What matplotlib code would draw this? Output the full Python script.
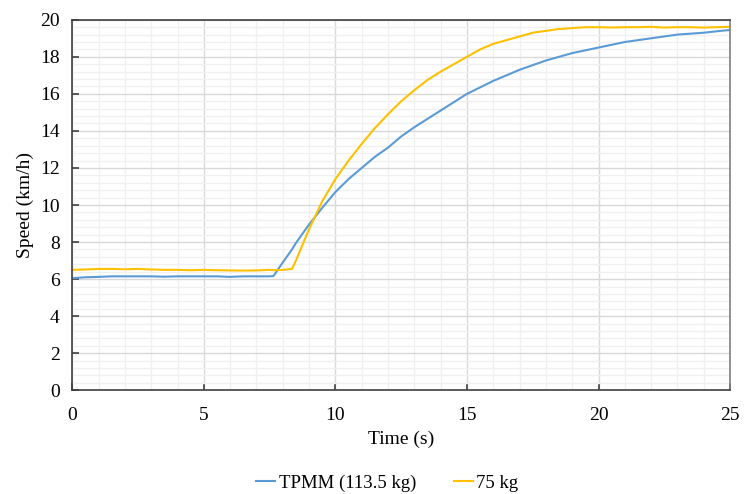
import matplotlib
matplotlib.use("Agg")
import matplotlib.pyplot as plt
import numpy as np

plt.rcParams['font.family'] = ['Liberation Serif', 'DejaVu Serif']

# time axis (s), 0.5 s steps
time_s = [0.0, 0.5, 1.0, 1.5, 2.0, 2.5, 3.0, 3.5, 4.0, 4.5,
          5.0, 5.5, 6.0, 6.5, 7.0, 7.5, 7.65, 8.0, 8.35, 8.5,
          9.0, 9.5, 10.0, 10.5, 11.0, 11.5, 12.0, 12.5, 13.0, 13.5,
          14.0, 14.5, 15.0, 15.5, 16.0, 16.5, 17.0, 17.5, 18.0, 18.5,
          19.0, 19.5, 20.0, 20.5, 21.0, 21.5, 22.0, 22.5, 23.0, 23.5,
          24.0, 24.5, 25.0]

# TPMM (113.5 kg)
speed_tpmm = [6.05, 6.1, 6.12, 6.15, 6.15, 6.15, 6.15, 6.13, 6.15, 6.15,
              6.15, 6.15, 6.12, 6.15, 6.15, 6.15, 6.17, 6.9, 7.6, 7.95,
              8.95, 9.85, 10.7, 11.4, 12.0, 12.6, 13.1, 13.7, 14.2, 14.65,
              15.1, 15.55, 16.0, 16.35, 16.7, 17.0, 17.3, 17.55, 17.8, 18.0,
              18.2, 18.35, 18.5, 18.65, 18.8, 18.9, 19.0, 19.1, 19.2, 19.25,
              19.3, 19.38, 19.45]

# 75 kg
speed_75 = [6.5, 6.52, 6.55, 6.55, 6.53, 6.55, 6.52, 6.5, 6.5, 6.48,
            6.5, 6.48, 6.47, 6.46, 6.47, 6.5, 6.48, 6.5, 6.55, 7.0,
            8.7, 10.2, 11.4, 12.4, 13.3, 14.15, 14.9, 15.6, 16.2, 16.75,
            17.2, 17.6, 18.0, 18.4, 18.7, 18.9, 19.1, 19.3, 19.4, 19.5,
            19.55, 19.6, 19.6, 19.58, 19.6, 19.6, 19.62, 19.58, 19.6, 19.6,
            19.58, 19.6, 19.62]

fig, ax = plt.subplots(figsize=(7.45, 4.94), dpi=100)
fig.subplots_adjust(left=0.097, right=0.98, top=0.96, bottom=0.21)

ax.plot(time_s, speed_tpmm, color='#5B9BD5', lw=1.5, label='TPMM (113.5 kg)')
ax.plot(time_s, speed_75, color='#FFC000', lw=1.5, label='75 kg')

ax.set_xlim(0, 25)
ax.set_ylim(0, 20)
ax.set_xticks(np.arange(0, 26, 5))
ax.set_yticks(np.arange(0, 21, 2))
ax.set_xticks(np.arange(0, 26, 1), minor=True)
ax.set_yticks(np.arange(0, 20.01, 0.4), minor=True)

ax.grid(which='major', color='#d9d9d9', lw=1.0)
ax.grid(which='minor', color='#f0f0f0', lw=1.0)
ax.set_axisbelow(True)

ax.tick_params(which='major', direction='in', length=5, width=1.2,
               color='#404040', labelsize=14)
ax.tick_params(which='minor', length=0)
ax.tick_params(axis='x', pad=12)
ax.tick_params(axis='y', pad=9)

for side in ['left', 'bottom', 'top']:
    ax.spines[side].set_color('#404040')
    ax.spines[side].set_linewidth(1.2)
ax.spines['right'].set_color('#808080')
ax.spines['right'].set_linewidth(1.2)

ax.set_xlabel('Time (s)', fontsize=14, labelpad=5)
ax.set_ylabel('Speed (km/h)', fontsize=14, labelpad=4)

fig.legend(loc='lower center', ncol=2, frameon=False, fontsize=13.5,
           handlelength=1.0, handletextpad=0.2, columnspacing=2.0,
           bbox_to_anchor=(0.52, -0.03))

fig.savefig('out.png', dpi=100)
